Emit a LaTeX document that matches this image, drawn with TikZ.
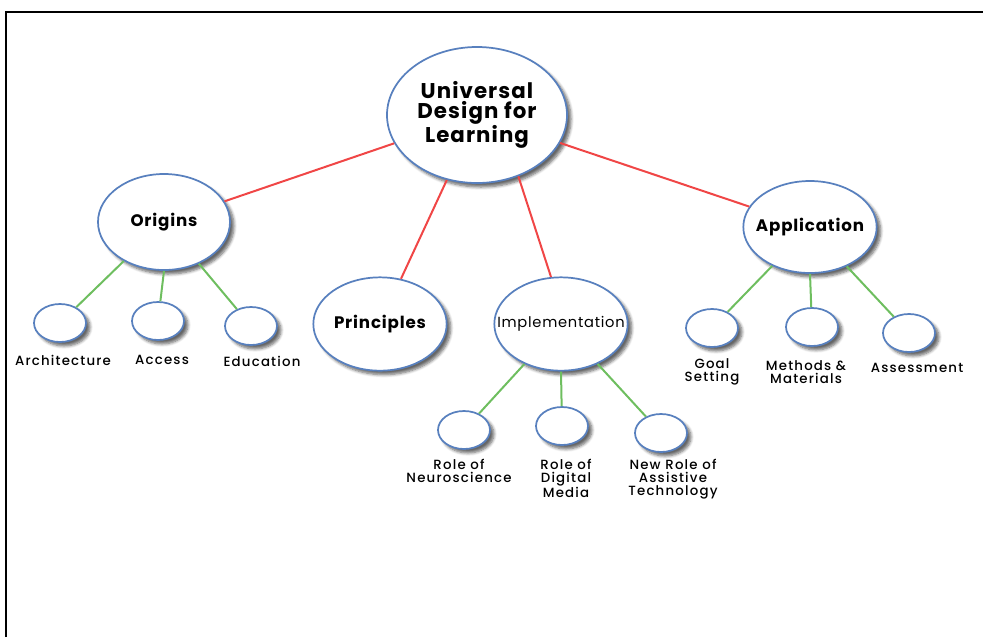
\documentclass[tikz,border=0pt]{standalone}
\usepackage{fontspec}
\setmainfont{Poppins}
\newfontfamily\roundfont[LetterSpace=5]{Poppins}
\newfontfamily\tagfont[LetterSpace=9]{Poppins Medium}
\usetikzlibrary{shapes.geometric,shadows.blur}

\definecolor{rim}{RGB}{88,128,190}
\definecolor{redline}{RGB}{240,70,70}
\definecolor{greenline}{RGB}{110,190,95}

\tikzset{
  bubble/.style={ellipse, draw=rim, line width=1.3pt, fill=white, inner sep=0pt, inner xsep=-14pt,
    blur shadow={shadow xshift=3pt, shadow yshift=-3pt, shadow blur steps=6, shadow opacity=60}},
  big/.style={bubble, minimum width=100pt, minimum height=70pt, font=\roundfont\fontsize{12.5}{14}\selectfont\bfseries},
  leaf/.style={bubble, minimum width=39pt, minimum height=28.5pt},
  tag/.style={align=center, inner sep=0pt, font=\tagfont\fontsize{10}{9.75}\selectfont},
  main/.style={redline, line width=1.5pt},
  sub/.style={greenline, line width=1.5pt}
}

\begin{document}
\begin{tikzpicture}[x=0.75pt,y=-0.75pt]
  \useasboundingbox (0,0) rectangle (983,637);
  \draw [line width=1.5pt] (6,637) -- (6,12) -- (983,12);

  % centre and first level
  \node [bubble, minimum width=135pt, minimum height=102pt, align=center,
         font=\roundfont\fontsize{16}{15}\selectfont\bfseries] (udl) at (477,115)
        {Universal\\Design for\\Learning};
  \node [big, minimum width=99pt, minimum height=72pt] (orig) at (164,222) {Origins};
  \node [big] (prin) at (380,324) {Principles};
  \node [big, font=\roundfont\fontsize{11}{14}\selectfont] (impl) at (561,324) {Implementation};
  \node [big, minimum height=69pt] (appl) at (810,227) {Application};

  % leaves
  \node [leaf] (arch) at (60,323) {};
  \node [leaf] (acc) at (158,321) {};
  \node [leaf] (edu) at (251,326) {};
  \node [leaf] (neuro) at (464,430) {};
  \node [leaf] (digi) at (562,426) {};
  \node [leaf] (assist) at (661,433) {};
  \node [leaf] (goal) at (712,328) {};
  \node [leaf] (meth) at (812,327) {};
  \node [leaf] (assess) at (909,333) {};

  \node [tag] (archtxt) at (63,360) {Architecture};
  \node [tag] (acctxt) at (162,360) {Access};
  \node [tag] (edutxt) at (262,361) {Education};
  \node [tag, anchor=north] (neurotxt) at (459,459) {Role of\\Neuroscience};
  \node [tag, anchor=north] (digitxt) at (566,459) {Role of\\Digital\\Media};
  \node [tag, anchor=north] (assisttxt) at (673,459) {New Role of\\Assistive\\Technology};
  \node [tag] (goaltxt) at (712,372) {Goal\\Setting};
  \node [tag] (methtxt) at (806,372) {Methods \&\\Materials};
  \node [tag] (assesstxt) at (917,368) {Assessment};

  % connectors
  \draw [main] (udl) -- (orig);
  \draw [main] (udl) -- (prin);
  \draw [main] (udl.-56) -- (impl.102);
  \draw [main] (udl) -- (appl);

  \draw [sub] (orig) -- (arch);
  \draw [sub] (orig.-90) -- (acc);
  \draw [sub] (orig) -- (edu);
  \draw [sub] (impl) -- (neuro);
  \draw [sub] (impl.-90) -- (digi);
  \draw [sub] (impl) -- (assist);
  \draw [sub] (appl) -- (goal);
  \draw [sub] (appl.-90) -- (meth);
  \draw [sub] (appl) -- (assess);
\end{tikzpicture}
\end{document}
